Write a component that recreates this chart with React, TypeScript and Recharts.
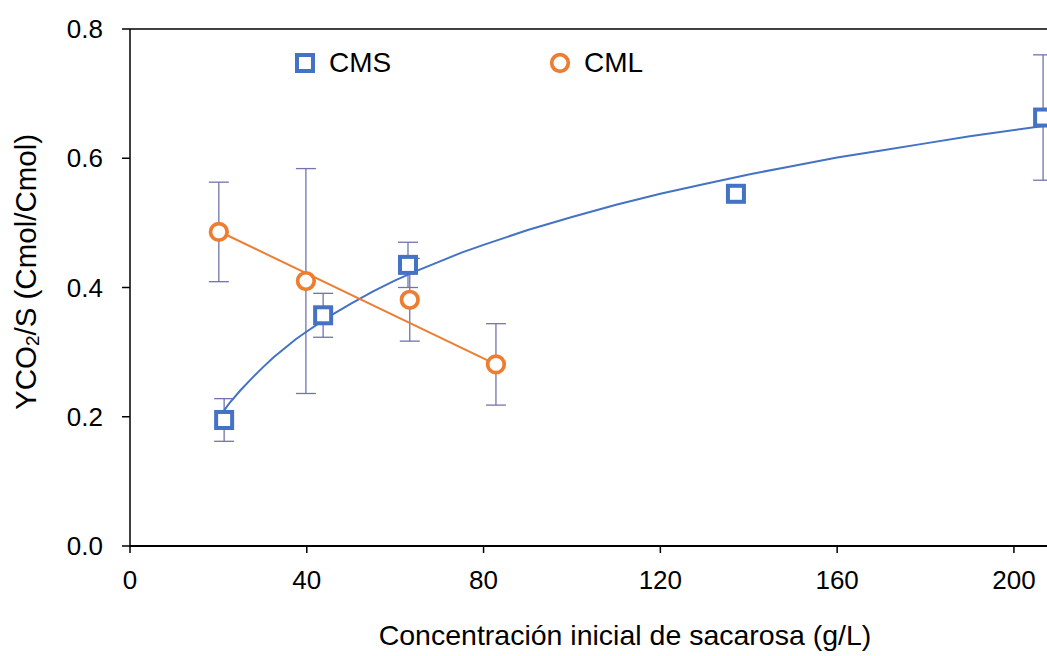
import React from "react";
import {
  ScatterChart,
  Scatter,
  XAxis,
  YAxis,
  ErrorBar,
  ReferenceLine,
} from "recharts";

// CMS measured points
const cmsX = [21.3, 43.7, 62.9, 137.1, 206.6];
const cmsY = [0.195, 0.357, 0.435, 0.545, 0.663];
const cmsErr = [0.033, 0.034, 0.035, 0.003, 0.097];

// CML measured points
const cmlX = [20.1, 39.8, 63.3, 82.8];
const cmlY = [0.486, 0.41, 0.381, 0.281];
const cmlErr = [0.077, 0.174, 0.064, 0.063];

// CMS logarithmic trend line
const cmsTrendX = [21.3, 22.5, 25, 27.5, 30, 32.5, 35, 37.5, 40, 45, 50, 55, 60, 65, 70, 75, 80, 90, 100, 110, 120, 130, 140, 150, 160, 170, 180, 190, 206.6];
const cmsTrendY = [0.21, 0.221, 0.241, 0.259, 0.276, 0.292, 0.306, 0.32, 0.332, 0.355, 0.375, 0.394, 0.411, 0.426, 0.44, 0.454, 0.466, 0.489, 0.509, 0.528, 0.545, 0.56, 0.575, 0.588, 0.601, 0.612, 0.623, 0.634, 0.65];

// CML linear trend line
const cmlTrendX = [20.1, 82.8];
const cmlTrendY = [0.487, 0.281];

const xTicks = [0, 40, 80, 120, 160, 200];
const yTicks = [0, 0.2, 0.4, 0.6, 0.8];

const seriesNames = ["CMS", "CML"];

const BLUE = "#4472C4";
const ORANGE = "#ED7D31";
const ERR = "#7373AD";
const FONT = "'Liberation Sans', Arial, sans-serif";

const cmsData = cmsX.map((x, i) => ({ x, y: cmsY[i], err: cmsErr[i] }));
const cmlData = cmlX.map((x, i) => ({ x, y: cmlY[i], err: cmlErr[i] }));
const cmsTrend = cmsTrendX.map((x, i) => ({ x, y: cmsTrendY[i] }));
const cmlTrend = cmlTrendX.map((x, i) => ({ x, y: cmlTrendY[i] }));

const SquareShape = (props: any) => {
  const { cx, cy } = props;
  if (cx == null || cy == null) return null;
  return (
    <rect x={cx - 8} y={cy - 8} width={16} height={16} fill="#fff" stroke={BLUE} strokeWidth={4} />
  );
};

const CircleShape = (props: any) => {
  const { cx, cy } = props;
  if (cx == null || cy == null) return null;
  return <circle cx={cx} cy={cy} r={8.3} fill="#fff" stroke={ORANGE} strokeWidth={3.7} />;
};

const NoShape = () => null;

const YLabel = () => {
  const cx = 25;
  const cy = 272;
  return (
    <text
      x={cx}
      y={cy}
      transform={`rotate(-90, ${cx}, ${cy})`}
      textAnchor="middle"
      dominantBaseline="central"
      fontFamily={FONT}
      fontSize={29.5}
      fill="#000"
    >
      <tspan>YCO</tspan>
      <tspan fontSize={19} dy={7}>2</tspan>
      <tspan dy={-7}>/S (Cmol/Cmol)</tspan>
    </text>
  );
};

const XLabel = (props: any) => {
  const vb = props.viewBox || {};
  const cx = vb.x + vb.width / 2;
  const cy = vb.y + 99;
  return (
    <text x={cx} y={cy} textAnchor="middle" fontFamily={FONT} fontSize={28.5} fill="#000">
      Concentración inicial de sacarosa (g/L)
    </text>
  );
};

const LegendOverlay = () => (
  <div
    style={{
      position: "absolute",
      left: 0,
      top: 0,
      width: 1047,
      height: 656,
      pointerEvents: "none",
      fontFamily: FONT,
      fontSize: 28,
      color: "#000",
    }}
  >
    <svg width={24} height={24} style={{ position: "absolute", left: 293, top: 51 }}>
      <rect x={4} y={4} width={16} height={16} fill="#fff" stroke={BLUE} strokeWidth={4} />
    </svg>
    <span style={{ position: "absolute", left: 329, top: 46, lineHeight: "34px" }}>{seriesNames[0]}</span>
    <svg width={24} height={24} style={{ position: "absolute", left: 548, top: 51 }}>
      <circle cx={12} cy={12} r={8.3} fill="#fff" stroke={ORANGE} strokeWidth={3.7} />
    </svg>
    <span style={{ position: "absolute", left: 584, top: 46, lineHeight: "34px" }}>{seriesNames[1]}</span>
  </div>
);

export default function App() {
  return (
    <div style={{ position: "absolute", left: 0, top: 0, width: 1047, height: 656, overflow: "hidden", background: "#fff" }}>
      <ScatterChart width={1130} height={656} margin={{ top: 29, right: 10, bottom: 0, left: 0 }}>
        <XAxis
          type="number"
          dataKey="x"
          domain={[0, 224]}
          ticks={xTicks}
          allowDataOverflow
          axisLine={{ stroke: "#000", strokeWidth: 2 }}
          tickLine={{ stroke: "#000", strokeWidth: 1.5 }}
          tickSize={7}
          tickMargin={18}
          height={110}
          tick={{ fontFamily: FONT, fontSize: 26, fill: "#000" }}
          label={<XLabel />}
        />
        <YAxis
          type="number"
          dataKey="y"
          domain={[0, 0.8]}
          ticks={yTicks}
          allowDataOverflow
          width={130}
          axisLine={{ stroke: "#000", strokeWidth: 1.5 }}
          tickLine={{ stroke: "#000", strokeWidth: 1.5 }}
          tickSize={8}
          tickMargin={19}
          tickFormatter={(v: number) => v.toFixed(1)}
          tick={{ fontFamily: FONT, fontSize: 26, fill: "#000" }}
          label={<YLabel />}
        />
        <ReferenceLine y={0.8} stroke="#000" strokeWidth={1.5} />
        <Scatter
          data={cmsTrend}
          line={{ stroke: BLUE, strokeWidth: 2 }}
          lineType="joint"
          shape={<NoShape />}
          isAnimationActive={false}
          legendType="none"
        />
        <Scatter
          data={cmlTrend}
          line={{ stroke: ORANGE, strokeWidth: 2 }}
          lineType="joint"
          shape={<NoShape />}
          isAnimationActive={false}
          legendType="none"
        />
        <Scatter data={cmlData} name={seriesNames[1]} shape={<CircleShape />} isAnimationActive={false}>
          <ErrorBar dataKey="err" direction="y" width={10} stroke={ERR} strokeWidth={1.3} />
        </Scatter>
        <Scatter data={cmsData} name={seriesNames[0]} shape={<SquareShape />} isAnimationActive={false}>
          <ErrorBar dataKey="err" direction="y" width={10} stroke={ERR} strokeWidth={1.3} />
        </Scatter>
      </ScatterChart>
      <LegendOverlay />
    </div>
  );
}
